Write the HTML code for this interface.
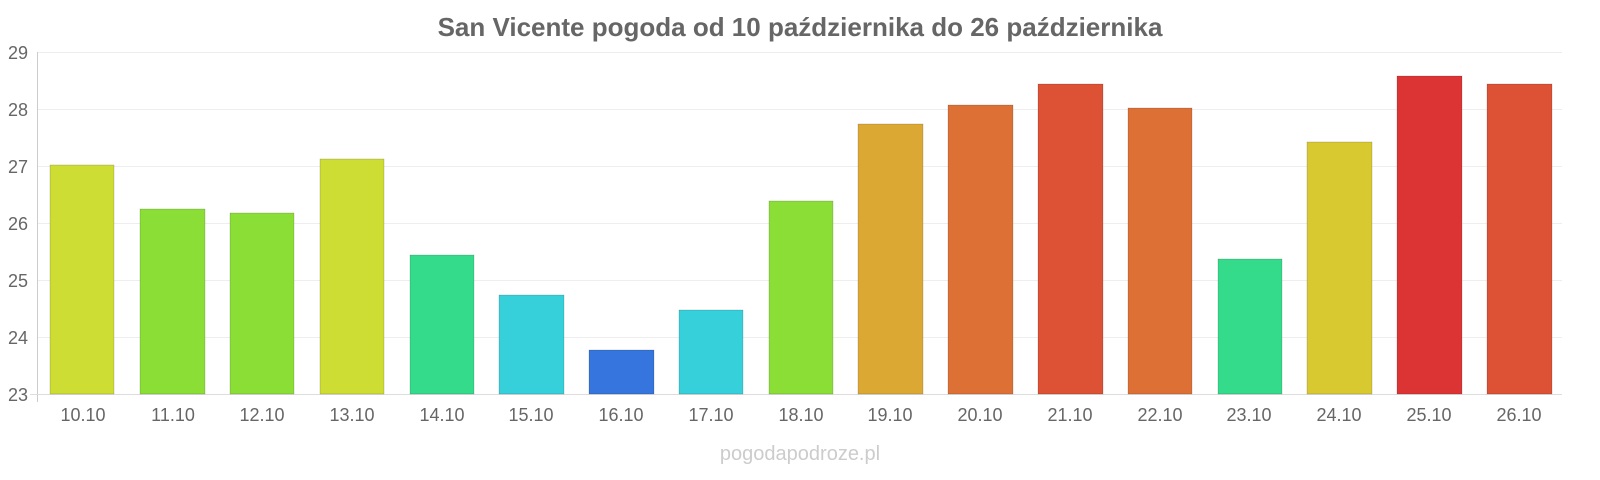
<!DOCTYPE html>
<html><head><meta charset="utf-8"><style>body{margin:0;background:#fff}svg{display:block}</style></head><body>
<svg width="1600" height="480" xmlns="http://www.w3.org/2000/svg" font-family="Liberation Sans, sans-serif">
<text x="800" y="36" text-anchor="middle" font-size="26" font-weight="bold" fill="#666">San Vicente pogoda od 10 października do 26 października</text>
<g stroke="#eee" stroke-width="1">
<line x1="38" x2="1562" y1="52.5" y2="52.5"/><line x1="38" x2="1562" y1="109.5" y2="109.5"/><line x1="38" x2="1562" y1="166.5" y2="166.5"/><line x1="38" x2="1562" y1="223.5" y2="223.5"/><line x1="38" x2="1562" y1="280.5" y2="280.5"/><line x1="38" x2="1562" y1="337.5" y2="337.5"/>
</g>
<line x1="37.5" x2="37.5" y1="52" y2="402" stroke="#ccc"/>
<line x1="30" x2="1562" y1="394.5" y2="394.5" stroke="#ddd"/>
<g font-size="18" fill="#666" text-anchor="end">
<text x="28" y="59">29</text><text x="28" y="116">28</text><text x="28" y="173">27</text><text x="28" y="230">26</text><text x="28" y="287">25</text><text x="28" y="344">24</text><text x="28" y="401">23</text>
</g>
<g stroke-opacity="0.3" stroke="#000" stroke-width="0.5">
<rect x="50" y="165" width="64" height="229" fill="#cddd34"/>
<rect x="140" y="209" width="65" height="185" fill="#8ade35"/>
<rect x="230" y="213" width="64" height="181" fill="#8ade35"/>
<rect x="320" y="159" width="64" height="235" fill="#cddd34"/>
<rect x="410" y="255" width="64" height="139" fill="#34db8a"/>
<rect x="499" y="295" width="65" height="99" fill="#36d0db"/>
<rect x="589" y="350" width="65" height="44" fill="#3575dd"/>
<rect x="679" y="310" width="64" height="84" fill="#36d0db"/>
<rect x="769" y="201" width="64" height="193" fill="#8ade35"/>
<rect x="858" y="124" width="65" height="270" fill="#dca834"/>
<rect x="948" y="105" width="65" height="289" fill="#dd7034"/>
<rect x="1038" y="84" width="65" height="310" fill="#dd5134"/>
<rect x="1128" y="108" width="64" height="286" fill="#dd7034"/>
<rect x="1218" y="259" width="64" height="135" fill="#34db8a"/>
<rect x="1307" y="142" width="65" height="252" fill="#d9c930"/>
<rect x="1397" y="76" width="65" height="318" fill="#dc3434"/>
<rect x="1487" y="84" width="65" height="310" fill="#dd5134"/>
</g>
<g font-size="18" fill="#666" text-anchor="middle">
<text x="83" y="421">10.10</text><text x="173" y="421">11.10</text><text x="262" y="421">12.10</text><text x="352" y="421">13.10</text><text x="442" y="421">14.10</text><text x="531" y="421">15.10</text><text x="621" y="421">16.10</text><text x="711" y="421">17.10</text><text x="801" y="421">18.10</text><text x="890" y="421">19.10</text><text x="980" y="421">20.10</text><text x="1070" y="421">21.10</text><text x="1160" y="421">22.10</text><text x="1249" y="421">23.10</text><text x="1339" y="421">24.10</text><text x="1429" y="421">25.10</text><text x="1519" y="421">26.10</text>
</g>
<text x="800" y="460" text-anchor="middle" font-size="20" fill="#ccc">pogodapodroze.pl</text>
</svg>
</body></html>
